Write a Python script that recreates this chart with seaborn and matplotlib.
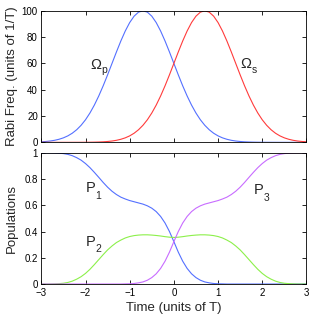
import numpy as np
import pandas as pd
import matplotlib
matplotlib.use("Agg")
import matplotlib.pyplot as plt
import seaborn as sns

# sampling grid (units of T)
time = np.round(np.arange(-30, 31) / 10.0, 1)

omega_p = [0.40, 0.64, 1.00, 1.54, 2.32, 3.41, 4.91, 6.92, 9.57, 12.95,
           17.15, 22.27, 28.31, 35.24, 42.96, 51.30, 59.99, 68.70, 77.04, 84.63,
           91.04, 95.91, 98.96, 100.0, 98.96, 95.91, 91.04, 84.63, 77.04, 68.70,
           59.99, 51.30, 42.96, 35.24, 28.31, 22.27, 17.15, 12.95, 9.57, 6.92,
           4.91, 3.41, 2.32, 1.54, 1.00, 0.64, 0.40, 0.25, 0.15, 0.09,
           0.05, 0.03, 0.02, 0.01, 0.0, 0.0, 0.0, 0.0, 0.0, 0.0, 0.0]

omega_s = [0.0, 0.0, 0.0, 0.0, 0.0, 0.0, 0.0, 0.01, 0.02, 0.03,
           0.05, 0.09, 0.15, 0.25, 0.40, 0.64, 1.00, 1.54, 2.32, 3.41,
           4.91, 6.92, 9.57, 12.95, 17.15, 22.27, 28.31, 35.24, 42.96, 51.30,
           59.99, 68.70, 77.04, 84.63, 91.04, 95.91, 98.96, 100.0, 98.96, 95.91,
           91.04, 84.63, 77.04, 68.70, 59.99, 51.30, 42.96, 35.24, 28.31, 22.27,
           17.15, 12.95, 9.57, 6.92, 4.91, 3.41, 2.32, 1.54, 1.00, 0.64, 0.40]

pop_1 = [1.0, 1.0, 1.0, 0.999, 0.997, 0.994, 0.988, 0.978, 0.963, 0.944,
         0.918, 0.887, 0.851, 0.813, 0.774, 0.738, 0.707, 0.682, 0.662, 0.648,
         0.636, 0.627, 0.618, 0.609, 0.596, 0.578, 0.552, 0.515, 0.465, 0.400,
         0.323, 0.243, 0.174, 0.119, 0.078, 0.049, 0.029, 0.016, 0.009, 0.004,
         0.002, 0.001, 0.0, 0.0, 0.0, 0.0, 0.0, 0.0, 0.0, 0.0,
         0.0, 0.0, 0.0, 0.0, 0.0, 0.0, 0.0, 0.0, 0.0, 0.0, 0.0]

pop_2 = [0.0, 0.0, 0.0, 0.001, 0.003, 0.006, 0.012, 0.022, 0.037, 0.056,
         0.081, 0.112, 0.148, 0.186, 0.224, 0.260, 0.290, 0.316, 0.335, 0.351,
         0.362, 0.369, 0.373, 0.375, 0.375, 0.373, 0.370, 0.366, 0.361, 0.357,
         0.355, 0.357, 0.361, 0.366, 0.370, 0.373, 0.375, 0.375, 0.373, 0.369,
         0.362, 0.351, 0.335, 0.316, 0.290, 0.260, 0.224, 0.186, 0.148, 0.112,
         0.081, 0.056, 0.037, 0.022, 0.012, 0.006, 0.003, 0.001, 0.0, 0.0, 0.0]

pop_3 = [0.0, 0.0, 0.0, 0.0, 0.0, 0.0, 0.0, 0.0, 0.0, 0.0,
         0.0, 0.0, 0.0, 0.0, 0.0, 0.0, 0.0, 0.0, 0.0, 0.001,
         0.002, 0.004, 0.009, 0.016, 0.029, 0.049, 0.078, 0.119, 0.174, 0.243,
         0.323, 0.400, 0.465, 0.515, 0.552, 0.578, 0.596, 0.609, 0.618, 0.627,
         0.636, 0.648, 0.662, 0.682, 0.707, 0.738, 0.774, 0.813, 0.851, 0.887,
         0.918, 0.944, 0.963, 0.978, 0.988, 0.994, 0.997, 0.999, 1.0, 1.0, 1.0]

x_ticks = [-3, -2, -1, 0, 1, 2, 3]
rabi_ticks = [0, 20, 40, 60, 80, 100]
pop_ticks = [0, 0.2, 0.4, 0.6, 0.8, 1]
pop_tick_labels = ["0", "0.2", "0.4", "0.6", "0.8", "1"]

sns.set_theme(style="ticks")
plt.rcParams["font.family"] = ["Liberation Sans", "DejaVu Sans"]

c_blue = "#5470ff"
c_red = "#ff3b3b"
c_green = "#8cf04a"
c_mag = "#c86cff"

fig = plt.figure(figsize=(3.13, 3.17), dpi=100)
ax1 = fig.add_axes([0.132, 0.551, 0.847, 0.415])
ax2 = fig.add_axes([0.132, 0.104, 0.847, 0.414])

lw = 0.8
sns.lineplot(x=time, y=omega_p, ax=ax1, color=c_blue, linewidth=lw)
sns.lineplot(x=time, y=omega_s, ax=ax1, color=c_red, linewidth=lw)
sns.lineplot(x=time, y=pop_1, ax=ax2, color=c_blue, linewidth=lw)
sns.lineplot(x=time, y=pop_2, ax=ax2, color=c_green, linewidth=lw)
sns.lineplot(x=time, y=pop_3, ax=ax2, color=c_mag, linewidth=lw)

for ax in (ax1, ax2):
    ax.set_xlim(-3, 3)
    ax.set_xticks(x_ticks)
    for s in ax.spines.values():
        s.set_visible(True)
        s.set_color("black")
        s.set_linewidth(0.6)
    ax.tick_params(direction="in", top=True, right=True, length=3, width=0.6,
                   labelsize=7, pad=2.5, colors="black")
    ax.set_facecolor("white")

ax1.set_ylim(0, 100)
ax1.set_yticks(rabi_ticks)
ax1.tick_params(labelbottom=False)
ax1.set_ylabel("Rabi Freq. (units of 1/T)", fontsize=9.5)
ax1.yaxis.set_label_coords(-0.088, 0.5)

ax2.set_ylim(0, 1)
ax2.set_yticks(pop_ticks)
ax2.set_yticklabels(pop_tick_labels)
ax2.set_xticklabels([str(v).replace("-", "\u2212") for v in x_ticks])
ax2.set_ylabel("Populations", fontsize=9.5)
ax2.yaxis.set_label_coords(-0.088, 0.5)
ax2.set_xlabel("Time (units of T)", fontsize=9.5, labelpad=3.5)


def label(ax, x, y, main, sub, dx, dy):
    ax.text(x, y, main, fontsize=10.5, ha="left", va="baseline")
    ax.annotate(sub, xy=(x, y), xytext=(dx, dy), textcoords="offset points",
                fontsize=7.5, ha="left", va="baseline")


label(ax1, -1.9, 55.7, "\u03a9", "p", 8.3, -2.6)
label(ax1, 1.5, 56.5, "\u03a9", "s", 8.3, -3.6)
label(ax2, -2.0, 0.70, "P", "1", 7.3, -4.8)
label(ax2, -2.0, 0.292, "P", "2", 7.3, -4.6)
label(ax2, 1.80, 0.685, "P", "3", 7.3, -4.6)

fig.savefig("out.png", dpi=100, facecolor="white")
